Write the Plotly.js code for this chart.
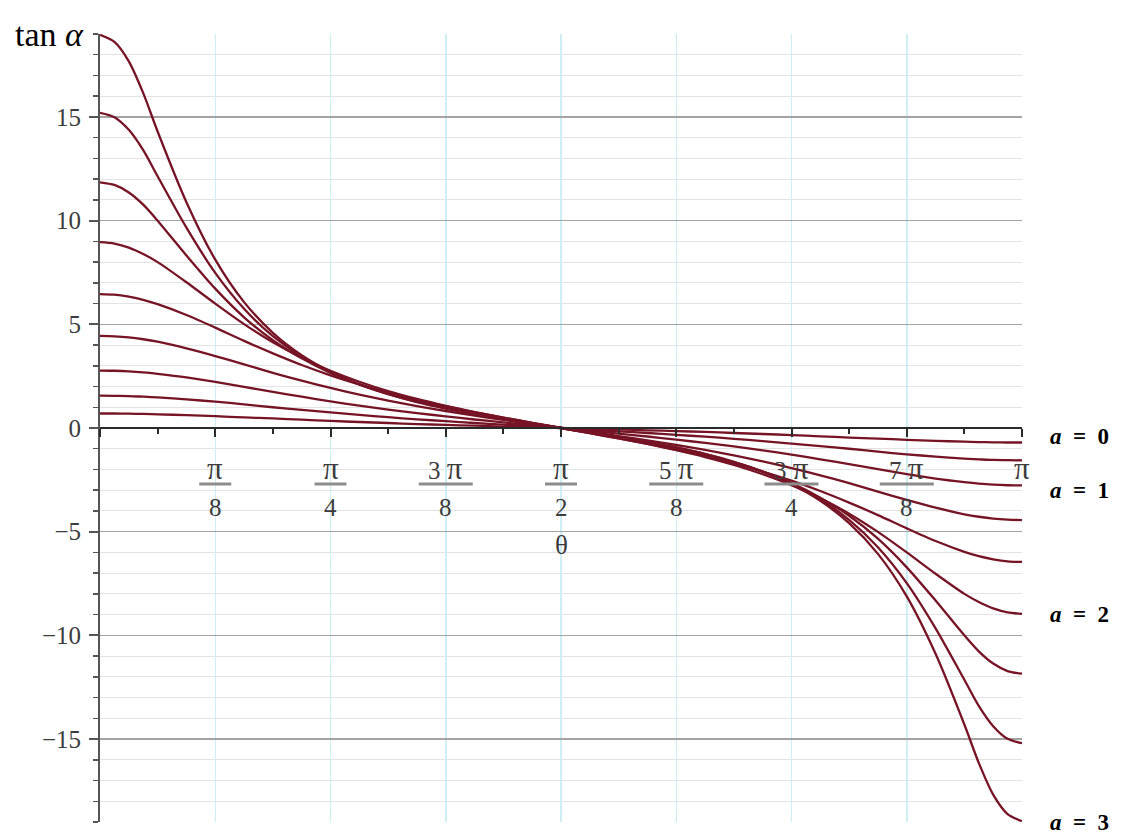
<!DOCTYPE html>
<html>
<head>
<meta charset="utf-8">
<script src="https://cdn.plot.ly/plotly-3.0.1.min.js"></script>
<style>
  html, body { margin: 0; padding: 0; background: #ffffff; }
  #chart { width: 1143px; height: 839px; }
</style>
</head>
<body>
<div id="chart"></div>
<script>
// ---------------- data ----------------
const theta = [0, 0.0491, 0.0982, 0.1473, 0.1963, 0.2945, 0.3927, 0.4909, 0.5890, 0.6872, 0.7854,
  0.8836, 0.9817, 1.0799, 1.1781, 1.2763, 1.3744, 1.4726, 1.5708,
  1.6690, 1.7671, 1.8653, 1.9635, 2.0617, 2.1598, 2.2580, 2.3562,
  2.4544, 2.5525, 2.6507, 2.7489, 2.8471, 2.9452, 2.9943, 3.0434, 3.0925, 3.1416];

const curve0 = [0.70, 0.70, 0.69, 0.68, 0.66, 0.62, 0.57, 0.51, 0.46, 0.40, 0.34, 0.29, 0.24, 0.19, 0.15, 0.11, 0.07, 0.04, 0,
  -0.04, -0.07, -0.11, -0.15, -0.19, -0.24, -0.29, -0.34, -0.40, -0.46, -0.51, -0.57, -0.62, -0.66, -0.68, -0.69, -0.70, -0.70];
const curve1 = [1.56, 1.55, 1.54, 1.51, 1.48, 1.38, 1.27, 1.14, 1.00, 0.87, 0.75, 0.63, 0.52, 0.42, 0.33, 0.24, 0.16, 0.08, 0,
  -0.08, -0.16, -0.24, -0.33, -0.42, -0.52, -0.63, -0.75, -0.87, -1.00, -1.14, -1.27, -1.38, -1.48, -1.51, -1.54, -1.55, -1.56];
const curve2 = [2.77, 2.76, 2.73, 2.68, 2.61, 2.44, 2.22, 1.98, 1.74, 1.51, 1.28, 1.08, 0.89, 0.72, 0.56, 0.41, 0.27, 0.13, 0,
  -0.13, -0.27, -0.41, -0.56, -0.72, -0.89, -1.08, -1.28, -1.51, -1.74, -1.98, -2.22, -2.44, -2.61, -2.68, -2.73, -2.76, -2.77];
const curve3 = [4.44, 4.42, 4.37, 4.28, 4.16, 3.84, 3.47, 3.07, 2.66, 2.28, 1.93, 1.61, 1.32, 1.06, 0.82, 0.60, 0.39, 0.19, 0,
  -0.19, -0.39, -0.60, -0.82, -1.06, -1.32, -1.61, -1.93, -2.28, -2.66, -3.07, -3.47, -3.84, -4.16, -4.28, -4.37, -4.42, -4.44];
const curve4 = [6.46, 6.43, 6.33, 6.18, 5.97, 5.45, 4.84, 4.20, 3.60, 3.04, 2.54, 2.10, 1.70, 1.36, 1.05, 0.76, 0.50, 0.25, 0,
  -0.25, -0.50, -0.76, -1.05, -1.36, -1.70, -2.10, -2.54, -3.04, -3.60, -4.20, -4.84, -5.45, -5.97, -6.18, -6.33, -6.43, -6.46];
const curve5 = [8.96, 8.89, 8.70, 8.39, 8.00, 7.03, 6.00, 5.01, 4.13, 3.39, 2.76, 2.23, 1.78, 1.40, 1.07, 0.77, 0.50, 0.25, 0,
  -0.25, -0.50, -0.77, -1.07, -1.40, -1.78, -2.23, -2.76, -3.39, -4.13, -5.01, -6.00, -7.03, -8.00, -8.39, -8.70, -8.89, -8.96];
const curve6 = [11.85, 11.72, 11.36, 10.77, 10.00, 8.32, 6.72, 5.34, 4.23, 3.36, 2.66, 2.11, 1.66, 1.29, 0.97, 0.70, 0.45, 0.22, 0,
  -0.22, -0.45, -0.70, -0.97, -1.29, -1.66, -2.11, -2.66, -3.36, -4.23, -5.34, -6.72, -8.32, -10.00, -10.77, -11.36, -11.72, -11.85];
const curve7 = [15.20, 14.99, 14.38, 13.40, 12.14, 9.66, 7.48, 5.75, 4.43, 3.44, 2.69, 2.10, 1.64, 1.26, 0.95, 0.68, 0.44, 0.22, 0,
  -0.22, -0.44, -0.68, -0.95, -1.26, -1.64, -2.10, -2.69, -3.44, -4.43, -5.75, -7.48, -9.66, -12.14, -13.40, -14.38, -14.99, -15.20];
const curve8 = [18.96, 18.62, 17.68, 16.15, 14.30, 10.89, 8.12, 6.07, 4.59, 3.51, 2.71, 2.10, 1.63, 1.25, 0.94, 0.67, 0.43, 0.21, 0,
  -0.21, -0.43, -0.67, -0.94, -1.25, -1.63, -2.10, -2.71, -3.51, -4.59, -6.07, -8.12, -10.89, -14.30, -16.15, -17.68, -18.62, -18.96];

const curves = [curve0, curve1, curve2, curve3, curve4, curve5, curve6, curve7, curve8];

// x tick labels (fractions of pi)
const xTickMultiples = [1, 2, 3, 4, 5, 6, 7];          // multiples of pi/8
const xTickNumerators = ['π', 'π', '3 π', 'π', '5 π', '3 π', '7 π'];
const xTickDenominators = ['8', '4', '8', '2', '8', '4', '8'];
const xEndLabel = 'π';

const xTitle = 'θ';
const yTitle = 'tan <i>α</i>';
const aLabels = ['<i>a</i>\u2002=\u20020', '<i>a</i>\u2002=\u20021', '<i>a</i>\u2002=\u20022', '<i>a</i>\u2002=\u20023'];

// ---------------- styling / layout ----------------
const curveColor = '#761426';
const serif = 'Liberation Serif, Times New Roman, serif';
const tickTextColor = '#3c3c3c';
const aLabelYs = [-0.39, -3.0, -9.0, -19.0];
const bigPi = s => s.replace('π', '<span style="font-size:31px">π</span>');

const traces = curves.map(c => ({
  x: theta, y: c, type: 'scatter', mode: 'lines',
  line: { color: curveColor, width: 2.3, shape: 'spline', smoothing: 0.8 },
  cliponaxis: false, hoverinfo: 'skip', showlegend: false
}));

const annotations = [];
const shapes = [];
xTickMultiples.forEach((m, i) => {
  const xv = m * Math.PI / 8;
  annotations.push({ x: xv, y: 0, xref: 'x', yref: 'y', text: bigPi(xTickNumerators[i]),
    showarrow: false, yshift: -40, xanchor: 'center', yanchor: 'middle',
    font: { family: serif, size: 25, color: tickTextColor } });
  annotations.push({ x: xv, y: 0, xref: 'x', yref: 'y', text: xTickDenominators[i],
    showarrow: false, yshift: -79, xanchor: 'center', yanchor: 'middle',
    font: { family: serif, size: 25, color: tickTextColor } });
  const w = xTickNumerators[i].length > 1 ? 54 : 32;
  shapes.push({ type: 'line', xref: 'x', yref: 'y', xsizemode: 'pixel', ysizemode: 'pixel',
    xanchor: xv, yanchor: 0, x0: -w / 2, x1: w / 2, y0: -56, y1: -56,
    line: { color: '#8c8c8c', width: 3 }, layer: 'above' });
});
annotations.push({ x: Math.PI, y: 0, xref: 'x', yref: 'y', text: bigPi(xEndLabel),
  showarrow: false, yshift: -40, xanchor: 'center', yanchor: 'middle',
  font: { family: serif, size: 25, color: tickTextColor } });
annotations.push({ x: Math.PI / 2, y: 0, xref: 'x', yref: 'y', text: xTitle,
  showarrow: false, yshift: -117, xanchor: 'center', yanchor: 'middle',
  font: { family: serif, size: 27, color: tickTextColor } });
annotations.push({ x: -0.0553, y: 0.999, xref: 'paper', yref: 'paper', text: yTitle,
  showarrow: false, xanchor: 'center', yanchor: 'middle',
  font: { family: serif, size: 34, color: '#000000' } });
aLabels.forEach((t, i) => {
  annotations.push({ x: Math.PI, y: aLabelYs[i], xref: 'x', yref: 'y', text: t,
    showarrow: false, xshift: 57, xanchor: 'center', yanchor: 'middle',
    font: { family: serif, size: 23, color: '#000000', weight: 'bold' } });
});

const layout = {
  width: 1143, height: 839,
  margin: { l: 100, r: 121, t: 34, b: 17, pad: 0 },
  paper_bgcolor: '#ffffff', plot_bgcolor: '#ffffff',
  showlegend: false,
  xaxis: {
    range: [0, Math.PI], anchor: 'free', position: 0.5,
    showline: true, linecolor: '#2a2a2a', linewidth: 2,
    tickmode: 'linear', tick0: 0, dtick: Math.PI / 8,
    ticks: 'outside', ticklen: 8, tickwidth: 2, tickcolor: '#2a2a2a',
    showticklabels: false,
    showgrid: true, gridcolor: '#cdeef4', gridwidth: 1.5,
    zeroline: false, fixedrange: true,
    minor: { dtick: Math.PI / 16, tick0: 0, ticks: 'outside', ticklen: 5, tickwidth: 2,
      tickcolor: '#2a2a2a', showgrid: false }
  },
  yaxis: {
    range: [-19, 19],
    showline: true, linecolor: '#555555', linewidth: 2,
    tickmode: 'linear', tick0: 0, dtick: 5,
    ticks: 'outside', ticklen: 9, tickwidth: 2, tickcolor: '#555555',
    ticklabelstandoff: 3,
    tickfont: { family: serif, size: 25, color: tickTextColor },
    showgrid: true, gridcolor: '#a3a3a3', gridwidth: 1.5,
    zeroline: false, fixedrange: true,
    minor: { dtick: 1, tick0: 0, ticks: 'outside', ticklen: 5, tickwidth: 1.5,
      tickcolor: '#555555', showgrid: true, gridcolor: '#e3e3e3', gridwidth: 1 }
  },
  annotations: annotations,
  shapes: shapes
};

Plotly.newPlot('chart', traces, layout, { staticPlot: true, displayModeBar: false });
</script>
</body>
</html>
